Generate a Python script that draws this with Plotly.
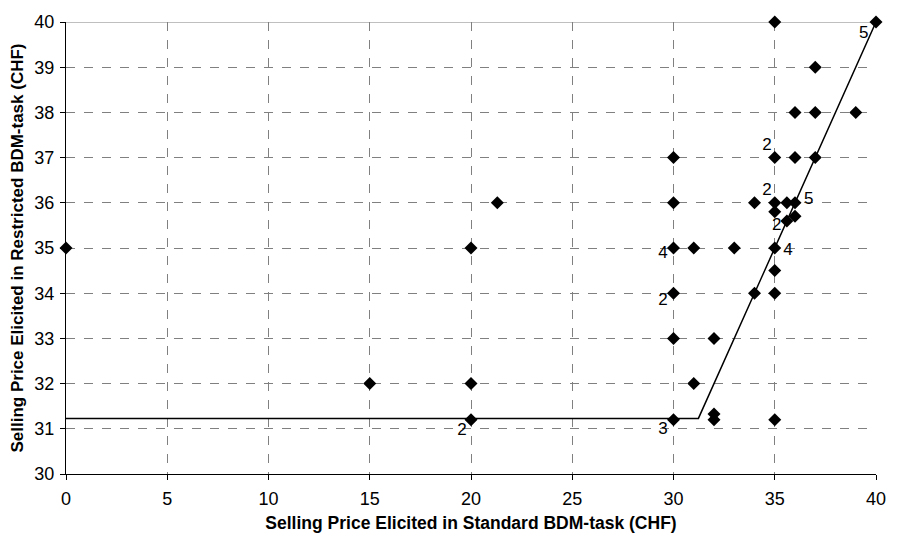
import plotly.graph_objects as go

# Observations (standard BDM price, restricted BDM price)
std_price = [0, 15, 20, 20, 20, 21.3,
             30, 30, 30, 30, 30, 30,
             31, 31, 32, 32, 32, 33,
             34, 34, 35, 35, 35, 35.0, 35, 35, 35, 35,
             35.6, 35.6, 36, 36, 36, 36,
             37, 37, 37, 39, 40]
restr_price = [35, 32, 32, 31.2, 35, 36,
               37, 36, 35, 34, 33, 31.2,
               35, 32, 33, 31.33, 31.2, 35,
               36, 34, 40, 37, 36, 35.8, 35, 34.5, 34, 31.2,
               36, 35.6, 36, 35.7, 38, 37,
               39, 38, 37, 38, 40]

# Multiplicity labels
label_text = ["5", "2", "2", "2", "5", "4", "4", "2", "3", "2"]
label_x = [39.4, 34.62, 34.62, 35.1, 36.68, 35.65, 29.48, 29.48, 29.48, 19.55]
label_y = [39.73, 37.26, 36.27, 35.5, 36.07, 34.93, 34.87, 33.84, 30.97, 30.96]

# Reference line: y = max(x, floor)
floor_val = 31.23
line_x = [0, floor_val, 40]
line_y = [floor_val, floor_val, 40]

x_ticks = [0, 5, 10, 15, 20, 25, 30, 35, 40]
y_ticks = [30, 31, 32, 33, 34, 35, 36, 37, 38, 39, 40]

FONT = "Arial, Liberation Sans, sans-serif"

fig = go.Figure()
fig.add_trace(go.Scatter(x=line_x, y=line_y, mode="lines",
                         line=dict(color="black", width=1.5),
                         hoverinfo="skip", showlegend=False))
fig.add_trace(go.Scatter(x=std_price, y=restr_price, mode="markers",
                         marker=dict(symbol="diamond", size=10, color="black",
                                     line=dict(width=0)),
                         cliponaxis=False, showlegend=False))
fig.add_trace(go.Scatter(x=label_x, y=label_y, mode="text", text=label_text,
                         textfont=dict(family=FONT, size=17, color="black"),
                         cliponaxis=False, showlegend=False))

fig.add_shape(type="line", xref="paper", yref="y", x0=0, x1=1, y0=40, y1=40,
              line=dict(color="#808080", width=1), layer="below")

fig.update_layout(
    width=898, height=543,
    margin=dict(l=66, r=21, t=13, b=69),
    plot_bgcolor="white", paper_bgcolor="white",
    font=dict(family=FONT, color="black"),
)
fig.update_xaxes(range=[0, 40], tickvals=x_ticks, ticks="outside", ticklen=5,
                 tickcolor="black", showline=True, linecolor="black", linewidth=1,
                 showgrid=True, gridcolor="#808080", griddash="dash", gridwidth=1,
                 zeroline=False, tickfont=dict(size=18), ticklabelstandoff=3,
                 title=dict(text="<b>Selling Price Elicited in Standard BDM-task (CHF)</b>",
                            font=dict(size=17.5), standoff=9))
fig.update_yaxes(range=[30, 40], tickvals=y_ticks, ticks="outside", ticklen=5,
                 tickcolor="black", showline=True, linecolor="black", linewidth=1,
                 showgrid=True, gridcolor="#808080", griddash="dash", gridwidth=1,
                 zeroline=False, tickfont=dict(size=18), ticklabelstandoff=2,
                 title=dict(text="<b>Selling Price Elicited in Restricted BDM-task (CHF)</b>",
                            font=dict(size=17), standoff=6))

fig.write_html("out.html")
